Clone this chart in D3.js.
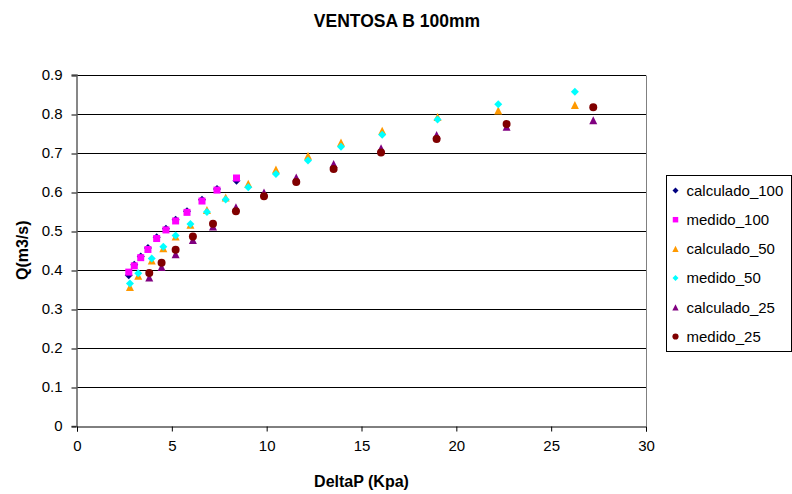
<!DOCTYPE html>
<html>
<head>
<meta charset="utf-8">
<script src="https://cdn.jsdelivr.net/npm/d3@7"></script>
<style>
  html, body { margin: 0; padding: 0; background: #fff; }
  svg { display: block; font-family: "Liberation Sans", Arial, sans-serif; }
</style>
</head>
<body>
<svg id="chart" width="792" height="494"></svg>
<script>
// Pressure drop (kPa) for each valve size
const deltaP_100 = [2.73, 3.02, 3.36, 3.74, 4.20, 4.69, 5.20, 5.80, 6.59, 7.38, 8.41];
const deltaP_50  = [2.79, 3.23, 3.94, 4.55, 5.20, 5.98, 6.85, 7.84, 9.03, 10.49, 12.18, 13.92, 16.09, 19.01, 22.21, 26.25];
const deltaP_25  = [3.81, 4.46, 5.20, 6.11, 7.17, 8.38, 9.86, 11.56, 13.53, 16.03, 18.96, 22.65, 27.22];

// Flow Q (m3/s)
const calculado_100 = [0.386, 0.413, 0.434, 0.456, 0.483, 0.505, 0.528, 0.550, 0.579, 0.607, 0.628];
const medido_100    = [0.394, 0.410, 0.431, 0.452, 0.480, 0.502, 0.525, 0.547, 0.576, 0.604, 0.635];
const calculado_50  = [0.356, 0.385, 0.424, 0.455, 0.485, 0.515, 0.553, 0.585, 0.620, 0.657, 0.692, 0.726, 0.756, 0.791, 0.808, 0.822];
const medido_50     = [0.365, 0.391, 0.429, 0.459, 0.488, 0.517, 0.548, 0.580, 0.611, 0.645, 0.680, 0.715, 0.746, 0.785, 0.824, 0.856];
const calculado_25  = [0.380, 0.407, 0.440, 0.476, 0.511, 0.560, 0.598, 0.636, 0.671, 0.711, 0.745, 0.766, 0.783];
const medido_25     = [0.392, 0.418, 0.451, 0.485, 0.518, 0.550, 0.588, 0.625, 0.658, 0.700, 0.735, 0.773, 0.816];

const seriesNames = ["calculado_100", "medido_100", "calculado_50", "medido_50", "calculado_25", "medido_25"];
const xTicks = [0, 5, 10, 15, 20, 25, 30];
const yTicks = [0, 0.1, 0.2, 0.3, 0.4, 0.5, 0.6, 0.7, 0.8, 0.9];

const titleText = "VENTOSA B 100mm";
const xTitle = "DeltaP (Kpa)";
const yTitle = "Q(m3/s)";

// Marker shapes
const diamond = { draw(ctx, size) { const r = Math.sqrt(size / 2); ctx.moveTo(0, -r); ctx.lineTo(r, 0); ctx.lineTo(0, r); ctx.lineTo(-r, 0); ctx.closePath(); } };
const triangle = { draw(ctx, size) { const h = Math.sqrt(size); ctx.moveTo(0, -h / 2); ctx.lineTo(h / 2, h / 2); ctx.lineTo(-h / 2, h / 2); ctx.closePath(); } };

const series = [
  { name: seriesNames[0], x: deltaP_100, y: calculado_100, color: "#000080", shape: diamond, size: 32, lsize: 18 },
  { name: seriesNames[1], x: deltaP_100, y: medido_100,    color: "#FF00FF", shape: d3.symbolSquare, size: 49, lsize: 30 },
  { name: seriesNames[2], x: deltaP_50,  y: calculado_50,  color: "#FF9900", shape: triangle, size: 64, lsize: 40 },
  { name: seriesNames[3], x: deltaP_50,  y: medido_50,     color: "#00FFFF", shape: diamond, size: 32, lsize: 18 },
  { name: seriesNames[4], x: deltaP_25,  y: calculado_25,  color: "#800080", shape: triangle, size: 64, lsize: 40 },
  { name: seriesNames[5], x: deltaP_25,  y: medido_25,     color: "#800000", shape: d3.symbolCircle, size: 50, lsize: 30 }
];

const svg = d3.select("#chart");
const plot = { left: 77, right: 646, top: 74.5, bottom: 426 };

const x = d3.scaleLinear().domain([0, 30]).range([plot.left, plot.right]);
const y = d3.scaleLinear().domain([0, 0.9]).range([plot.bottom, plot.top]);

// Horizontal gridlines
svg.append("g")
  .selectAll("line")
  .data(yTicks.filter(d => d > 0))
  .join("line")
  .attr("x1", plot.left).attr("x2", plot.right)
  .attr("y1", d => Math.round(y(d)) + 0.5).attr("y2", d => Math.round(y(d)) + 0.5)
  .attr("stroke", "#000").attr("stroke-width", 1);

// Plot area outline (right side)
svg.append("line")
  .attr("x1", plot.right + 0.5).attr("x2", plot.right + 0.5)
  .attr("y1", Math.round(plot.top) + 0.5).attr("y2", plot.bottom)
  .attr("stroke", "#808080");

// Axes
const yAxis = d3.axisLeft(y).tickValues(yTicks).tickSize(5).tickPadding(9)
  .tickFormat(d => d === 0 ? "0" : d3.format(".1f")(d));
const xAxis = d3.axisBottom(x).tickValues(xTicks).tickSize(5).tickPadding(9);

const gy = svg.append("g").attr("transform", `translate(${plot.left - 0.5},0)`).call(yAxis);
const gx = svg.append("g").attr("transform", `translate(0,${plot.bottom + 0.5})`).call(xAxis);

[gx, gy].forEach(g => {
  g.select(".domain").attr("stroke", "#000");
  g.selectAll(".tick line").attr("stroke", "#000");
  g.selectAll(".tick text").attr("fill", "#000").style("font-size", "15px")
    .style("font-family", "'Liberation Sans', Arial, sans-serif");
});
gy.selectAll(".tick line").attr("transform", d => `translate(0,${(Math.round(y(d)) + 0.5) - y(d)})`);
gy.select(".domain").attr("stroke", "#606060").attr("stroke-width", 1.5);

// Markers, drawn in series order so later series sit on top
series.forEach(s => {
  const pts = s.x.map((v, i) => [v, s.y[i]]);
  svg.append("g")
    .selectAll("path")
    .data(pts)
    .join("path")
    .attr("transform", d => `translate(${x(d[0])},${y(d[1])})`)
    .attr("d", d3.symbol().type(s.shape).size(s.size))
    .attr("fill", s.color);
});

// Titles
svg.append("text")
  .attr("x", 397).attr("y", 27)
  .attr("text-anchor", "middle")
  .style("font-size", "17.5px").style("font-weight", "bold")
  .text(titleText);

svg.append("text")
  .attr("x", (plot.left + plot.right) / 2).attr("y", 487)
  .attr("text-anchor", "middle")
  .style("font-size", "16px").style("font-weight", "bold")
  .text(xTitle);

svg.append("text")
  .attr("transform", `translate(28,${(plot.top + plot.bottom) / 2}) rotate(-90)`)
  .attr("text-anchor", "middle")
  .style("font-size", "16px").style("font-weight", "bold")
  .text(yTitle);

// Legend
const legend = svg.append("g").attr("transform", "translate(666.5,175.5)");
legend.append("rect")
  .attr("width", 125).attr("height", 176)
  .attr("fill", "#fff").attr("stroke", "#000");

const rowY = d3.scalePoint().domain(seriesNames).range([15, 161]);
const rows = legend.selectAll("g.row").data(series).join("g")
  .attr("class", "row")
  .attr("transform", d => `translate(0,${rowY(d.name)})`);
rows.append("path")
  .attr("transform", "translate(9,0)")
  .attr("d", d => d3.symbol().type(d.shape).size(d.lsize)())
  .attr("fill", d => d.color);
rows.append("text")
  .attr("x", 20).attr("dy", "0.35em")
  .style("font-size", "15px")
  .text(d => d.name);
</script>
</body>
</html>
